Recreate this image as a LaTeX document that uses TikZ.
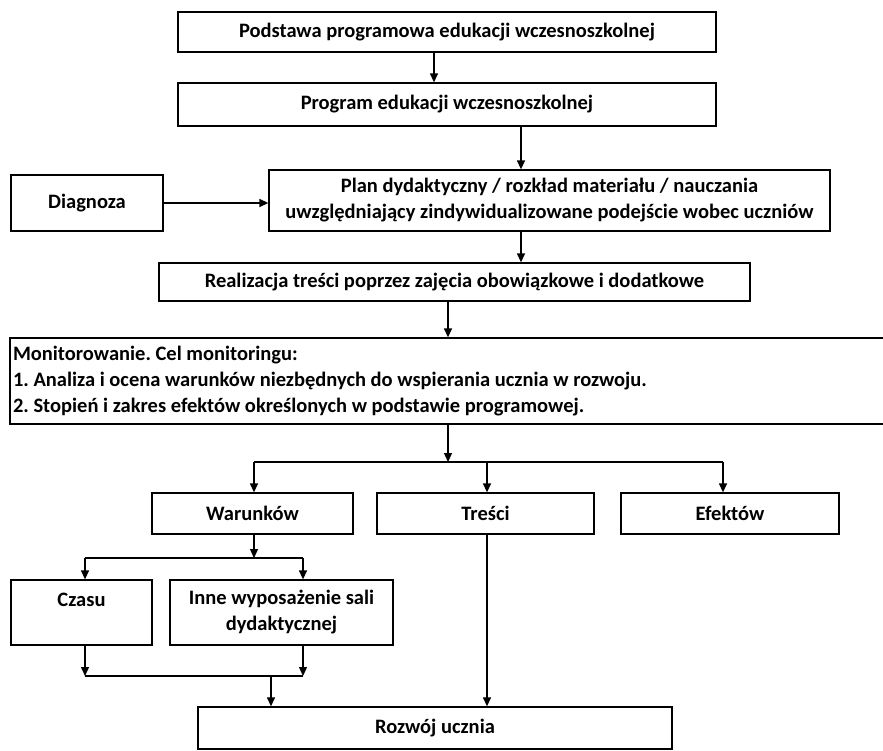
\documentclass[tikz,border=0pt]{standalone}
\usepackage{fontspec}
\setmainfont{Carlito}
\usetikzlibrary{arrows.meta,positioning}

\tikzset{
    box/.style={draw, line width=1.3pt, inner sep=3pt, align=center,
        font=\fontsize{20.5}{26}\selectfont\bfseries\frenchspacing},
    arr/.style={-{Triangle[length=9pt,width=8pt]}, line width=1.3pt},
    link/.style={line width=1.3pt},
}

\begin{document}
\begin{tikzpicture}[x=1pt,y=-1pt]
    \useasboundingbox (0,0) rectangle (883,750);

    % main chain
    \node [box, minimum width=538, minimum height=40] (base) at (447,32) {Podstawa programowa edukacji wczesnoszkolnej};
    \node [box, minimum width=538, minimum height=43] (prog) at (447,104.5) {Program edukacji wczesnoszkolnej};
    \node [box, minimum width=152, minimum height=56] (diag) at (87,203) {Diagnoza};
    \node [box, minimum width=561, minimum height=61] (plan) at (549.5,200.5) {Plan dydaktyczny / rozkład materiału / nauczania\\uwzględniający zindywidualizowane podejście wobec uczniów};
    \node [box, minimum width=591, minimum height=38] (real) at (454.5,282) {Realizacja treści poprzez zajęcia obowiązkowe i dodatkowe};
    \node [box, minimum width=890, minimum height=86, text width=884, align=flush left] (mon) at (455,381) {Monitorowanie. Cel monitoringu:\\1. Analiza i ocena warunków niezbędnych do wspierania ucznia w rozwoju.\\2. Stopień i zakres efektów określonych w podstawie programowej.};

    % areas of monitoring
    \node [box, minimum width=201, minimum height=41] (war) at (252.5,513.5) {Warunków};
    \node [box, minimum width=217, minimum height=41] (tre) at (485.5,513.5) {Treści};
    \node [box, minimum width=218, minimum height=41] (efe) at (730,513.5) {Efektów};
    \node [box, minimum width=141, minimum height=65] (czas) at (81.5,612.5) {Czasu\\\mbox{}};
    \node [box, minimum width=223, minimum height=65] (wyp) at (281.5,612.5) {Inne wyposażenie sali\\dydaktycznej};
    \node [box, minimum width=474, minimum height=42] (roz) at (435,728) {Rozwój ucznia};

    % columns of the connectors
    \coordinate (c1) at (434,0);
    \coordinate (c2) at (521,0);
    \coordinate (c3) at (448,0);
    \coordinate (c4) at (254,0);
    \coordinate (c5) at (487,0);
    \coordinate (c6) at (723,0);
    \coordinate (c7) at (85,0);
    \coordinate (c8) at (303,0);
    \coordinate (c9) at (271,0);
    % rows of the branches
    \coordinate (r1) at (0,462);
    \coordinate (r2) at (0,558);
    \coordinate (r3) at (0,676);

    \draw [arr] (base.south -| c1) -- (prog.north -| c1);
    \draw [arr] (prog.south -| c2) -- (plan.north -| c2);
    \draw [arr] (diag.east) -- (diag.east -| plan.west);
    \draw [arr] (plan.south -| c2) -- (real.north -| c2);
    \draw [arr] (real.south -| c3) -- (mon.north -| c3);

    \draw [arr] (mon.south -| c3) -- (r1 -| c3);
    \draw [link] (r1 -| c4) -- (r1 -| c6);
    \draw [arr] (r1 -| c4) -- (war.north -| c4);
    \draw [arr] (r1 -| c5) -- (tre.north -| c5);
    \draw [arr] (r1 -| c6) -- (efe.north -| c6);

    \draw [arr] (war.south -| c4) -- (r2 -| c4);
    \draw [link] (r2 -| c7) -- (r2 -| c8);
    \draw [arr] (r2 -| c7) -- (czas.north -| c7);
    \draw [arr] (r2 -| c8) -- (wyp.north -| c8);

    \draw [arr] (czas.south -| c7) -- (r3 -| c7);
    \draw [arr] (wyp.south -| c8) -- (r3 -| c8);
    \draw [link] (r3 -| c7) -- (r3 -| c8);
    \draw [arr] (r3 -| c9) -- (roz.north -| c9);
    \draw [arr] (tre.south -| c5) -- (roz.north -| c5);
\end{tikzpicture}
\end{document}
